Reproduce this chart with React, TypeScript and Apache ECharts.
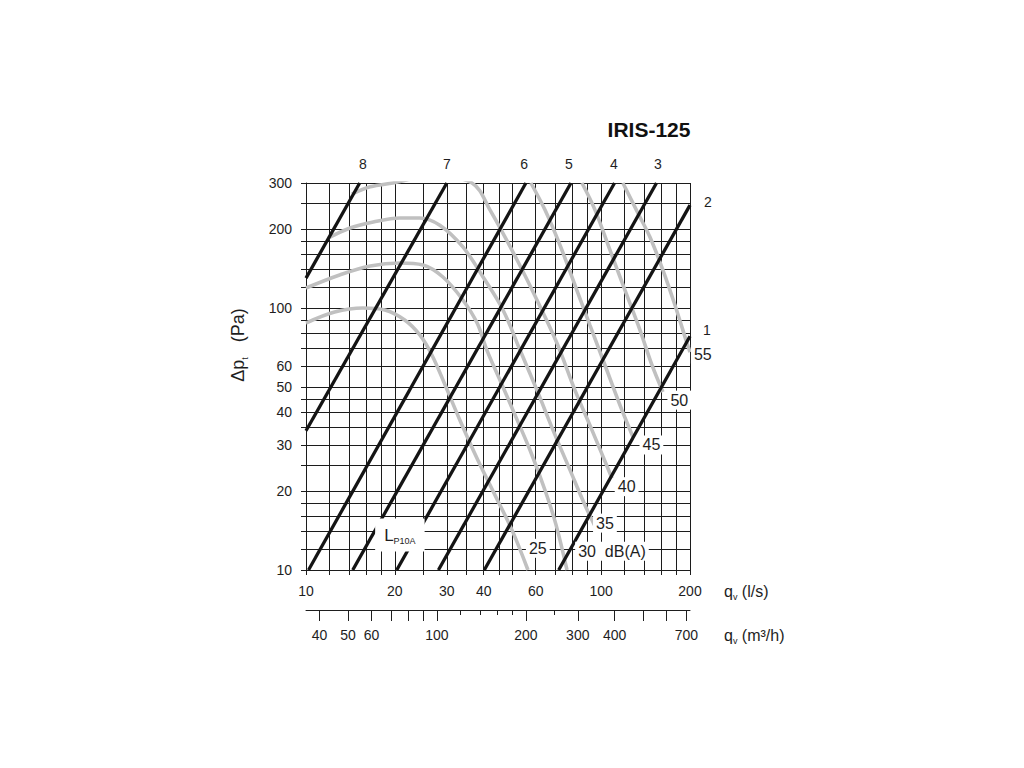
import { useEffect, useRef } from 'react';
import * as echarts from 'echarts';

const chartTitle = 'IRIS-125';

// grid / tick values (l/s, Pa, m3/h)
const flowGrid = [10, 12, 14, 16, 18, 20, 25, 30, 35, 40, 45, 50, 60, 70, 80, 90, 100, 120, 140, 160, 180, 200];
const flowLabels = [10, 20, 30, 40, 60, 100, 200];
const pressureGrid = [10, 12, 14, 16, 18, 20, 25, 30, 35, 40, 45, 50, 60, 70, 80, 90, 100, 120, 140, 160, 180, 200, 250, 300];
const pressureLabels = [10, 20, 30, 40, 50, 60, 100, 200, 300];
const m3hMajor = [40, 50, 60, 70, 80, 90, 100, 200, 300, 400, 500, 600, 700];
const m3hMinor = [120, 140, 160, 180, 250];
const m3hLabels = [40, 50, 60, 100, 200, 300, 400, 700];

// damper positions 1..8 : start and end points [q l/s, dp Pa]
const positionNames = ['1', '2', '3', '4', '5', '6', '7', '8'];
const positionStart = [[71.8, 10], [40.2, 10], [28.1, 10], [20.3, 10], [14.4, 10], [10.2, 10], [10, 34], [10, 130]];
const positionEnd = [[200, 78], [200, 247], [154, 300], [111, 300], [79, 300], [55.6, 300], [30, 300], [15.2, 300]];
const positionLabelQ = [228, 230, 155.7, 110.5, 77.8, 54.8, 30.0, 15.6];
const positionLabelP = [82.4, 254, 354, 354, 354, 354, 354, 354];

// sound level curves LP10A (dB(A))
const noise25 = [[10, 87.6], [12.5, 96.5], [15.6, 100], [18.5, 98.3], [21.6, 90], [24.3, 78.9], [26.7, 66.2], [29.6, 50.8], [33.2, 37.4], [38.2, 26.3], [43.7, 19.3], [49.9, 14.2], [56.5, 10]];
const noise30 = [[10, 119.2], [13.0, 133.7], [16.5, 144.6], [20.8, 148.5], [24.9, 145.9], [29.1, 131.3], [34.0, 107.3], [38.0, 87.6], [41.0, 69.1], [45.4, 53.1], [51.1, 39.0], [57.4, 28.7], [64.5, 20.2], [70.3, 14.9], [76.6, 10]];
const noise35 = [[11.9, 185], [14.1, 202], [16.9, 213], [20.8, 220.6], [24.3, 220.6], [28.4, 207], [34.0, 171], [39.8, 131.3], [46.5, 98.3], [53.1, 69.1], [60.6, 48.6], [68.7, 34.2], [78.4, 24.1], [88.1, 17.7], [96.8, 14.2]];
const noise40 = [[14.3, 272], [16.5, 290], [19.7, 300], [26.7, 319], [36.5, 300], [42.0, 237], [51.9, 152.5], [60.6, 107.3], [70.8, 73.5], [81.5, 48.6], [93.1, 34.2], [108.8, 22.4]];
const noise45 = [[57.8, 300], [64.5, 237], [72.5, 174], [81.5, 122.4], [91.6, 86.1], [103, 60.6], [115.8, 42.6], [128.2, 32.2]];
const noise50 = [[86.1, 300], [95.3, 237], [107.1, 166.5], [120.4, 117.1], [135.4, 82.4], [148.6, 60.6], [161.9, 47.8]];
const noise55 = [[118.5, 300], [133.3, 230], [146.3, 186.6], [161.9, 139.6], [177.8, 102.7], [195.3, 73.5], [200, 67.9]];
const noiseCurves = [noise25, noise30, noise35, noise40, noise45, noise50, noise55];

// dB(A) labels
const dbTexts = ['25', '30  dB(A)', '35', '40', '45', '50', '55'];
const dbQ = [61.0, 108.8, 103, 122, 148, 184, 221];
const dbP = [12.1, 11.8, 15.1, 20.8, 30.0, 44.5, 66.7];
const lpLabelQ = 20.8;
const lpLabelP = 13.6;

const FONT = '"Liberation Sans", Arial, Helvetica, sans-serif';
const INK = '#1e1e1e';

export default function App() {
  const ref = useRef<HTMLDivElement>(null);
  useEffect(() => {
    document.body.style.margin = '0';
    const chart = echarts.init(ref.current as HTMLDivElement, null, { renderer: 'svg' });

    const series: any[] = [];
    series.push({
      type: 'line',
      data: [],
      silent: true,
      z: 1,
      markLine: {
        silent: true,
        z: 1,
        symbol: ['none', 'none'],
        label: { show: false },
        emphasis: { disabled: true },
        lineStyle: { type: 'solid', color: '#1c1c1c', width: 1 },
        data: [
          ...flowGrid.map((v) => ({ xAxis: v })),
          ...pressureGrid.map((v) => ({ yAxis: v })),
        ],
      },
    });
    noiseCurves.forEach((c, i) => {
      series.push({
        type: 'line',
        name: 'noise' + i,
        data: c,
        smooth: 0.35,
        symbol: 'none',
        silent: true,
        z: 10,
        lineStyle: { color: '#c0c0c0', width: 3.6 },
      });
    });
    positionNames.forEach((n, i) => {
      series.push({
        type: 'line',
        name: 'pos' + n,
        data: [positionStart[i], positionEnd[i]],
        symbol: 'none',
        silent: true,
        z: 11,
        lineStyle: { color: '#141414', width: 3.3 },
      });
    });
    const labelData: any[] = [];
    positionNames.forEach((n, i) => {
      labelData.push({
        name: n,
        value: [positionLabelQ[i], positionLabelP[i]],
        label: { fontSize: 14 },
      });
    });
    dbTexts.forEach((t, i) => {
      labelData.push({
        name: t,
        value: [dbQ[i], dbP[i]],
        label: { fontSize: 16, backgroundColor: '#fff', padding: [2, 3, 1, 3] },
      });
    });
    labelData.push({
      name: '{L|L}{s|P10A}',
      value: [lpLabelQ, lpLabelP],
      label: {
        backgroundColor: '#fff',
        padding: [7, 9, 6, 9],
        rich: {
          L: { fontSize: 17, color: INK, fontFamily: FONT, lineHeight: 20 },
          s: { fontSize: 9, color: INK, fontFamily: FONT, verticalAlign: 'bottom', lineHeight: 13 },
        },
      },
    });
    series.push({
      type: 'scatter',
      data: labelData,
      symbolSize: 0,
      clip: false,
      silent: true,
      z: 30,
      itemStyle: { color: INK, opacity: 1 },
      label: {
        show: true,
        position: [0, 0],
        align: 'center',
        verticalAlign: 'middle',
        formatter: (p: any) => p.name,
        color: INK,
        fontFamily: FONT,
        fontSize: 14,
      },
    });

    const axisCommon = {
      axisLine: { show: true, lineStyle: { color: INK, width: 1 } },
      splitLine: { show: false },
      minorTick: { show: false },
      minorSplitLine: { show: false },
    };

    const richName = {
      a: { fontSize: 16, fontFamily: FONT, fill: INK, lineHeight: 20 },
      b: { fontSize: 9, fontFamily: FONT, fill: INK, verticalAlign: 'bottom', lineHeight: 14 },
    };

    chart.setOption({
      animation: false,
      backgroundColor: '#fff',
      grid: { left: 306, top: 183, width: 384, height: 387, outerBoundsMode: 'none' },
      xAxis: [
        {
          ...axisCommon,
          type: 'log',
          logBase: 10,
          min: 10,
          max: 200,
          position: 'bottom',
          axisTick: { show: true, customValues: flowGrid, length: 5, lineStyle: { color: INK } },
          axisLabel: { customValues: flowLabels, margin: 14, color: INK, fontSize: 14, fontFamily: FONT },
        },
        {
          ...axisCommon,
          type: 'log',
          logBase: 10,
          min: 36,
          max: 720,
          position: 'bottom',
          offset: 40,
          axisTick: { show: true, customValues: m3hMajor, length: 11, lineStyle: { color: INK } },
          axisLabel: { customValues: m3hLabels, margin: 18, color: INK, fontSize: 14, fontFamily: FONT },
        },
        {
          ...axisCommon,
          type: 'log',
          logBase: 10,
          min: 36,
          max: 720,
          position: 'bottom',
          offset: 40,
          axisLine: { show: false },
          axisTick: { show: true, customValues: m3hMinor, length: 5, lineStyle: { color: INK } },
          axisLabel: { show: false },
        },
      ],
      yAxis: {
        ...axisCommon,
        type: 'log',
        logBase: 10,
        min: 10,
        max: 300,
        axisTick: { show: true, customValues: pressureGrid, length: 5, lineStyle: { color: INK } },
        axisLabel: { customValues: pressureLabels, margin: 14, color: INK, fontSize: 14, fontFamily: FONT },
      },
      graphic: [
        {
          type: 'text',
          x: 649,
          y: 129,
          z: 50,
          style: {
            text: chartTitle,
            fill: '#111',
            font: 'bold 21px ' + FONT,
            align: 'center',
            verticalAlign: 'middle',
          },
        },
        {
          type: 'text',
          x: 238,
          y: 345,
          rotation: Math.PI / 2,
          z: 50,
          style: {
            text: '{a|Δp}{b|t}{a|   (Pa)}',
            align: 'center',
            verticalAlign: 'middle',
            rich: {
              a: { fontSize: 18, fontFamily: FONT, fill: INK, lineHeight: 22 },
              b: { fontSize: 9, fontFamily: FONT, fill: INK, verticalAlign: 'bottom', lineHeight: 14 },
            },
          },
        },
        {
          type: 'text',
          x: 724,
          y: 591,
          z: 50,
          style: {
            text: '{a|q}{b|v}{a| (l/s)}',
            align: 'left',
            verticalAlign: 'middle',
            rich: richName,
          },
        },
        {
          type: 'text',
          x: 724,
          y: 635,
          z: 50,
          style: {
            text: '{a|q}{b|v}{a| (m³/h)}',
            align: 'left',
            verticalAlign: 'middle',
            rich: richName,
          },
        },
      ],
      series,
    });
    return () => chart.dispose();
  }, []);
  return <div ref={ref} style={{ width: 1024, height: 768 }} />;
}
